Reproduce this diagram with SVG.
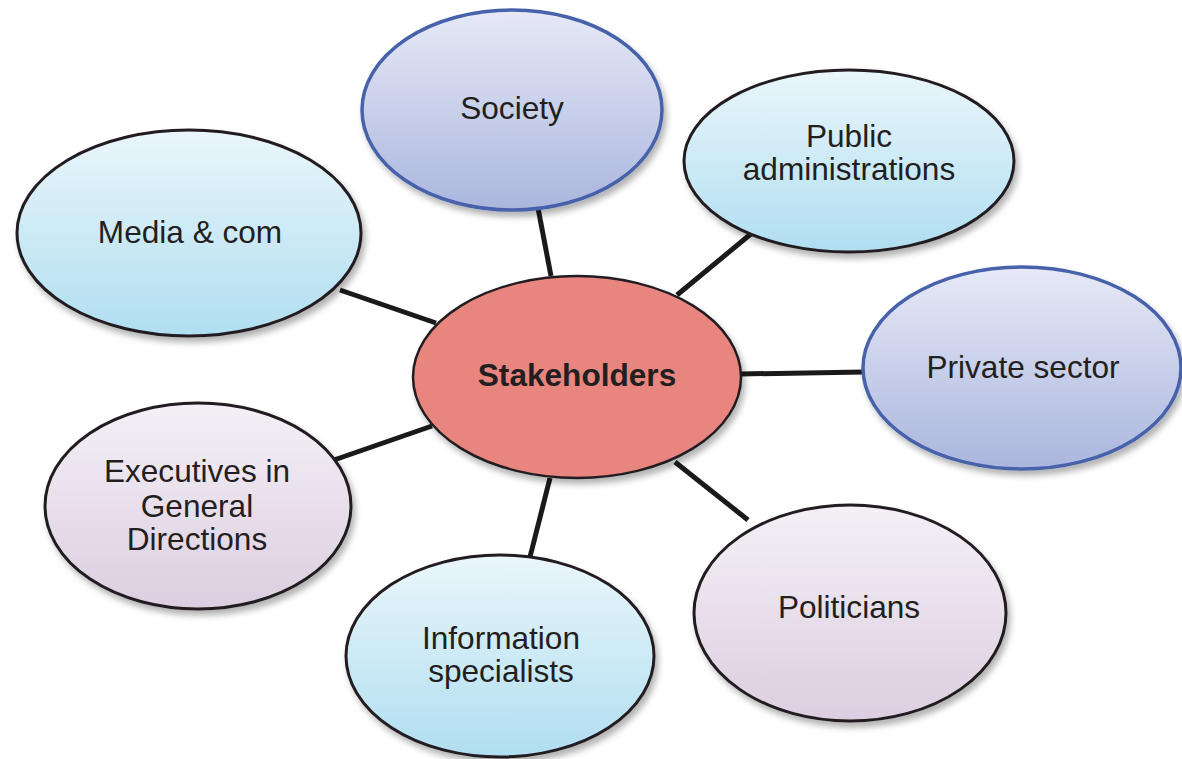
<svg xmlns="http://www.w3.org/2000/svg" width="1182" height="759" viewBox="0 0 1182 759">
<style>
.lbl{font-family:"Liberation Sans",Arial,sans-serif;font-size:31.6px;fill:#231f20;text-anchor:middle}
.bold{font-weight:bold}
.blk{stroke:#231f20;stroke-width:3}
.blu{stroke:#4662ab;stroke-width:3.5}
.con line{stroke:#1a1a1a;stroke-width:5;stroke-linecap:butt}
.sh{filter:url(#shadow)}
</style>
<defs>
<linearGradient id="cyan" x1="0" y1="0" x2="0" y2="1">
<stop offset="0" stop-color="#eaf6fb"/><stop offset="1" stop-color="#b0def0"/>
</linearGradient>
<linearGradient id="blue" x1="0" y1="0" x2="0" y2="1">
<stop offset="0" stop-color="#e7e9f6"/><stop offset="1" stop-color="#aab6de"/>
</linearGradient>
<linearGradient id="lav" x1="0" y1="0" x2="0" y2="1">
<stop offset="0" stop-color="#f4f0f6"/><stop offset="1" stop-color="#dccee0"/>
</linearGradient>
<filter id="shadow" x="-10%" y="-10%" width="125%" height="130%">
<feDropShadow dx="3" dy="5" stdDeviation="3" flood-color="#000" flood-opacity="0.3"/>
</filter>
</defs>
<rect width="1182" height="759" fill="#ffffff"/>
<g id="connectors" class="con">
<line x1="538" y1="208" x2="551" y2="276"/>
<line x1="752" y1="233" x2="677" y2="295"/>
<line x1="340" y1="290" x2="436" y2="323"/>
<line x1="740" y1="374" x2="864" y2="372"/>
<line x1="334" y1="460" x2="432" y2="426"/>
<line x1="675" y1="462" x2="748" y2="520"/>
<line x1="550" y1="478" x2="530" y2="557"/>
</g>
<g id="society">
<ellipse class="blu sh" cx="512" cy="110" rx="150" ry="100" fill="url(#blue)"/>
<text class="lbl" x="512" y="119">Society</text>
</g>
<g id="public-administrations">
<ellipse class="blk sh" cx="849" cy="161" rx="165" ry="91" fill="url(#cyan)"/>
<text class="lbl" x="849" y="147">Public</text>
<text class="lbl" x="849" y="180">administrations</text>
</g>
<g id="media-com">
<ellipse class="blk sh" cx="189" cy="233" rx="172" ry="103" fill="url(#cyan)"/>
<text class="lbl" x="190" y="243">Media &amp; com</text>
</g>
<g id="stakeholders">
<ellipse class="blk sh" cx="577" cy="377" rx="164" ry="101" fill="#e8857f" style="stroke-width:2.5"/>
<text class="lbl bold" x="577" y="386">Stakeholders</text>
</g>
<g id="private-sector">
<ellipse class="blu sh" cx="1022" cy="368" rx="159" ry="101" fill="url(#blue)"/>
<text class="lbl" x="1023" y="378">Private sector</text>
</g>
<g id="executives">
<ellipse class="blk sh" cx="198" cy="506" rx="153" ry="103" fill="url(#lav)"/>
<text class="lbl" x="197" y="482">Executives in</text>
<text class="lbl" x="197" y="517">General</text>
<text class="lbl" x="197" y="550">Directions</text>
</g>
<g id="politicians">
<ellipse class="blk sh" cx="850" cy="613" rx="156" ry="108" fill="url(#lav)"/>
<text class="lbl" x="849" y="618">Politicians</text>
</g>
<g id="information-specialists">
<ellipse class="blk sh" cx="500" cy="656" rx="154" ry="101" fill="url(#cyan)"/>
<text class="lbl" x="501" y="649">Information</text>
<text class="lbl" x="501" y="682">specialists</text>
</g>
</svg>
